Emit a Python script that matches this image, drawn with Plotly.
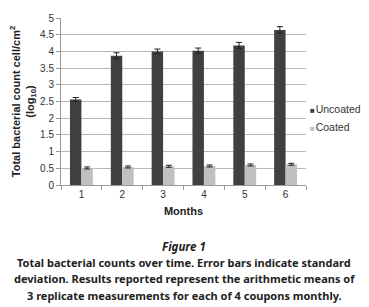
import plotly.graph_objects as go

months = ["1", "2", "3", "4", "5", "6"]
uncoated = [2.56, 3.87, 4.00, 4.02, 4.18, 4.64]
uncoated_err = [0.06, 0.09, 0.07, 0.08, 0.09, 0.10]
coated = [0.51, 0.54, 0.56, 0.57, 0.60, 0.62]
coated_err = [0.03, 0.03, 0.03, 0.03, 0.03, 0.03]
series_names = ["Uncoated", "Coated"]
series_colors = ["#404040", "#c0c0c0"]
caption_title = "Figure 1"
caption_lines = [
    "Total bacterial counts over time. Error bars indicate standard",
    "deviation. Results reported represent the arithmetic means of",
    "3 replicate measurements for each of 4 coupons monthly.",
]

# The page body has an 8px margin, so the figure is sized to fit the window.
W, H = 361, 299
L, T, R, B = 53, 10, 3, 122
PW = W - L - R
plot_right = 298
dom = (plot_right - L) / PW

fig = go.Figure()
for name, vals, errs, col in [(series_names[0], uncoated, uncoated_err, series_colors[0]),
                              (series_names[1], coated, coated_err, series_colors[1])]:
    fig.add_trace(go.Bar(
        x=months, y=vals, name=name,
        marker=dict(color=col, line=dict(width=0)),
        error_y=dict(type="data", array=errs, color="#222222", thickness=1, width=3),
    ))

font_main = "Liberation Sans, Arial, sans-serif"
fig.update_layout(
    width=W, height=H,
    margin=dict(l=L, r=R, t=T, b=B, autoexpand=False),
    paper_bgcolor="white", plot_bgcolor="white",
    barmode="group", bargap=0.44, bargroupgap=0,
    font=dict(family=font_main, size=10, color="#333333"),
    showlegend=False,
    xaxis=dict(
        domain=[0, dom], automargin=False,
        showline=True, linecolor="#999999", linewidth=1,
        ticks="outside", tickson="boundaries", ticklen=4, tickcolor="#999999",
        showgrid=False,
        title=dict(text="<b>Months</b>", font=dict(size=11, color="#222222"), standoff=8),
    ),
    yaxis=dict(
        automargin=False,
        range=[0, 5], dtick=0.5, showgrid=True, gridcolor="#b8b8b8", gridwidth=1,
        showline=True, linecolor="#999999", linewidth=1,
        ticks="outside", ticklen=4, tickcolor="#999999",
        zeroline=False,
        title=dict(text="<b>Total bacterial count cell/cm<sup>2</sup><br>(log<sub>10</sub>)</b>",
                   font=dict(size=11, color="#222222"), standoff=4),
    ),
)

# legend drawn as compact text items (Excel style)
leg_x = (300 - L) / PW
for i, (name, col) in enumerate(zip(series_names, series_colors)):
    fig.add_annotation(
        text=f"<span style='color:{col};font-size:8px'>■</span><span style='font-size:3px'> </span>{name}",
        xref="paper", yref="paper", x=leg_x, y=1, yshift=-(91 + 18 * i),
        xanchor="left", yanchor="middle", showarrow=False,
        font=dict(family=font_main, size=10.5, color="#333333"))

cap_font = "Noto Sans, Open Sans, sans-serif"
cap_x = (176 - L) / PW
fig.add_annotation(text=f"<b><i>{caption_title}</i></b>", xref="paper", yref="paper",
                   x=cap_x, y=0, yshift=-61, xanchor="center", yanchor="middle",
                   showarrow=False, font=dict(family=cap_font, size=11.5, color="#222222"))
for i, line in enumerate(caption_lines):
    fig.add_annotation(
        text=f"<b>{line}</b>",
        xref="paper", yref="paper", x=cap_x, y=0, yshift=-(77 + 16.5 * i),
        xanchor="center", yanchor="middle", showarrow=False,
        font=dict(family=cap_font, size=11, color="#222222"))

fig.write_html("out.html")
